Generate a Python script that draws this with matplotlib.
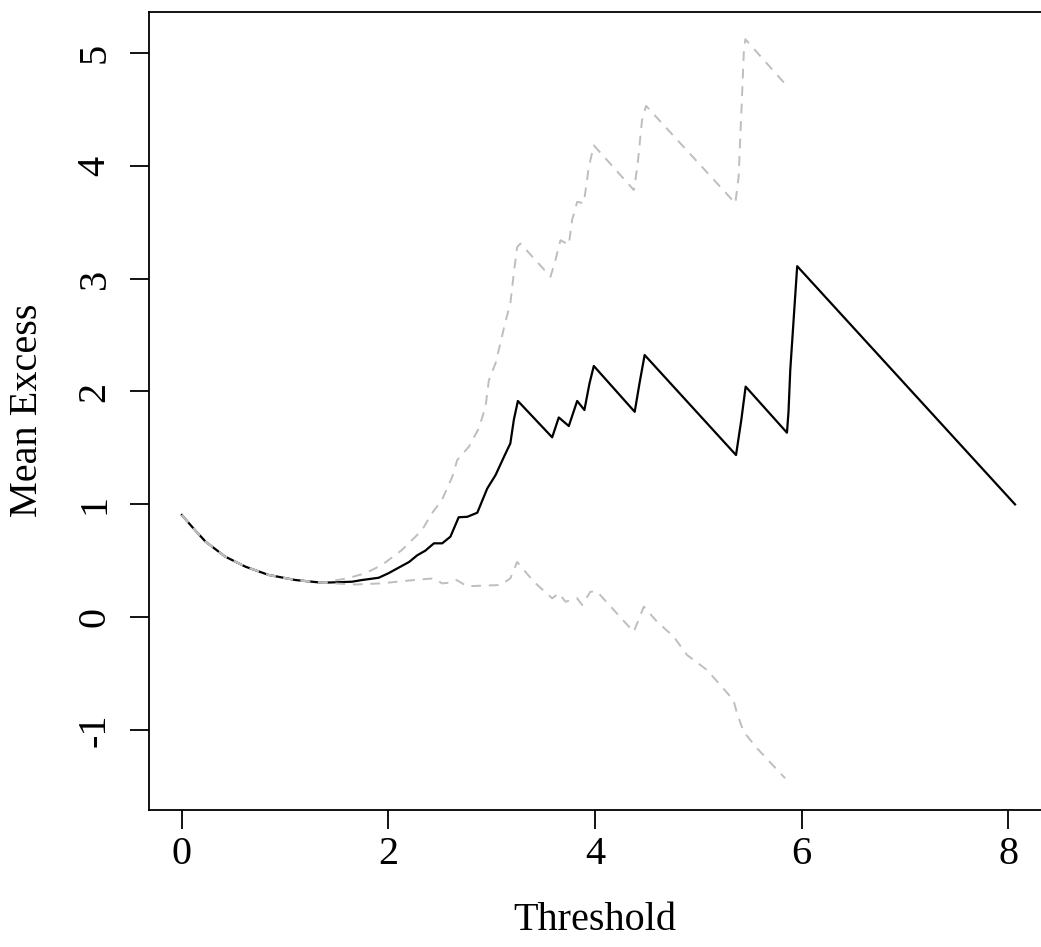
import matplotlib
matplotlib.use("Agg")
import matplotlib.pyplot as plt

# Mean excess (solid black)
me_x = [0.0, 0.10, 0.229, 0.42, 0.616, 0.84, 1.10, 1.357, 1.647, 1.744, 1.905, 2.0,
        2.1, 2.2, 2.28, 2.357, 2.44, 2.52, 2.60, 2.68, 2.763, 2.86, 2.956, 3.037,
        3.133, 3.18, 3.214, 3.253, 3.585, 3.649, 3.746, 3.827, 3.897, 3.946, 3.988,
        4.384, 4.43, 4.48, 5.365, 5.416, 5.458, 5.858, 5.873, 5.89, 5.957, 8.066]
me_y = [0.906, 0.80, 0.67, 0.537, 0.448, 0.375, 0.33, 0.306, 0.315, 0.33, 0.35, 0.39,
        0.44, 0.49, 0.55, 0.59, 0.655, 0.655, 0.714, 0.886, 0.89, 0.926, 1.14, 1.26,
        1.45, 1.54, 1.75, 1.916, 1.594, 1.77, 1.694, 1.916, 1.836, 2.07, 2.226,
        1.82, 2.07, 2.323, 1.437, 1.748, 2.043, 1.635, 1.82, 2.19, 3.11, 1.0]

# Upper confidence bound (grey dashed)
up_x = [0.0, 0.10, 0.229, 0.42, 0.616, 0.84, 1.10, 1.357, 1.615, 1.776, 1.937, 2.13,
        2.324, 2.42, 2.518, 2.618, 2.666, 2.778, 2.875, 2.94, 2.972, 3.037, 3.133,
        3.18, 3.214, 3.246, 3.278, 3.569, 3.617, 3.665, 3.746, 3.778, 3.827, 3.891,
        3.94, 3.988, 4.375, 4.41, 4.455, 4.494, 5.358, 5.39, 5.42, 5.44, 5.455, 5.858]
up_y = [0.906, 0.80, 0.67, 0.537, 0.448, 0.375, 0.33, 0.306, 0.348, 0.39, 0.463, 0.596,
        0.77, 0.92, 1.04, 1.245, 1.393, 1.51, 1.674, 1.865, 2.10, 2.25, 2.62,
        2.78, 3.05, 3.28, 3.31, 3.017, 3.165, 3.34, 3.30, 3.52, 3.68, 3.667,
        3.99, 4.18, 3.785, 3.99, 4.405, 4.53, 3.667, 3.9, 4.55, 5.0, 5.12, 4.706]

# Lower confidence bound (grey dashed)
lo_x = [0.0, 0.10, 0.229, 0.42, 0.616, 0.84, 1.10, 1.357, 1.68, 1.925, 2.246, 2.44,
        2.52, 2.62, 2.66, 2.76, 3.085, 3.18, 3.246, 3.407, 3.585, 3.649, 3.714,
        3.827, 3.875, 3.956, 4.02, 4.342, 4.375, 4.472, 4.6, 4.76, 4.89, 5.084,
        5.34, 5.374, 5.438, 5.568, 5.84]
lo_y = [0.906, 0.80, 0.67, 0.537, 0.448, 0.375, 0.33, 0.306, 0.29, 0.30, 0.33, 0.345,
        0.30, 0.31, 0.33, 0.275, 0.286, 0.345, 0.49, 0.315, 0.168, 0.213, 0.138,
        0.168, 0.109, 0.227, 0.227, -0.097, -0.128, 0.094, -0.039, -0.17, -0.334, -0.467,
        -0.733, -0.85, -1.013, -1.16, -1.426]

x_ticks = [0, 2, 4, 6, 8]
y_ticks = [-1, 0, 1, 2, 3, 4, 5]
x_label = "Threshold"
y_label = "Mean Excess"

W, H = 1041, 947
plt.rcParams['font.family'] = ['Liberation Serif', 'DejaVu Serif']
fig = plt.figure(figsize=(W / 100, H / 100), dpi=100)

left_px, right_px, top_px, bot_px = 148.5, 1048.5, 11.7, 810.0
ax = fig.add_axes([left_px / W, 1 - bot_px / H, (right_px - left_px) / W,
                   (bot_px - top_px) / H])

ax.plot(me_x, me_y, color='black', linewidth=1.6, zorder=2)
ax.plot(up_x, up_y, color='#BEBEBE', linewidth=1.4, dashes=(5, 4), zorder=3)
ax.plot(lo_x, lo_y, color='#BEBEBE', linewidth=1.4, dashes=(5, 4), zorder=3)

ax.set_xlim(-0.323, 8.39)
ax.set_ylim(-1.707, 5.364)
ax.set_xticks(x_ticks)
ax.set_yticks(y_ticks)
ax.set_xticklabels([str(v) for v in x_ticks])
ax.set_yticklabels([str(v) for v in y_ticks])

for s in ax.spines.values():
    s.set_linewidth(1.3)
    s.set_color('black')

ax.tick_params(axis='both', direction='out', length=14, width=1.3, labelsize=29,
               colors='black')
ax.tick_params(axis='x', pad=18)
ax.tick_params(axis='y', pad=24.5)
for lab in ax.get_xticklabels():
    lab.set_va('center')
for lab in ax.get_yticklabels():
    lab.set_rotation(90)
    lab.set_ha('center')
    lab.set_va('center')

ax.set_xlabel(x_label, fontsize=29, va='center')
ax.set_ylabel(y_label, fontsize=29, ha='center', va='center')
axh = bot_px - top_px
axw = right_px - left_px
ax.xaxis.set_label_coords(0.5 * (181 + 1008) / 2 / axw * 2 - left_px / axw + 0.0, (bot_px - 920) / axh)
ax.yaxis.set_label_coords((28 - left_px) / axw, (bot_px - 410) / axh)

fig.savefig("out.png", dpi=100)
